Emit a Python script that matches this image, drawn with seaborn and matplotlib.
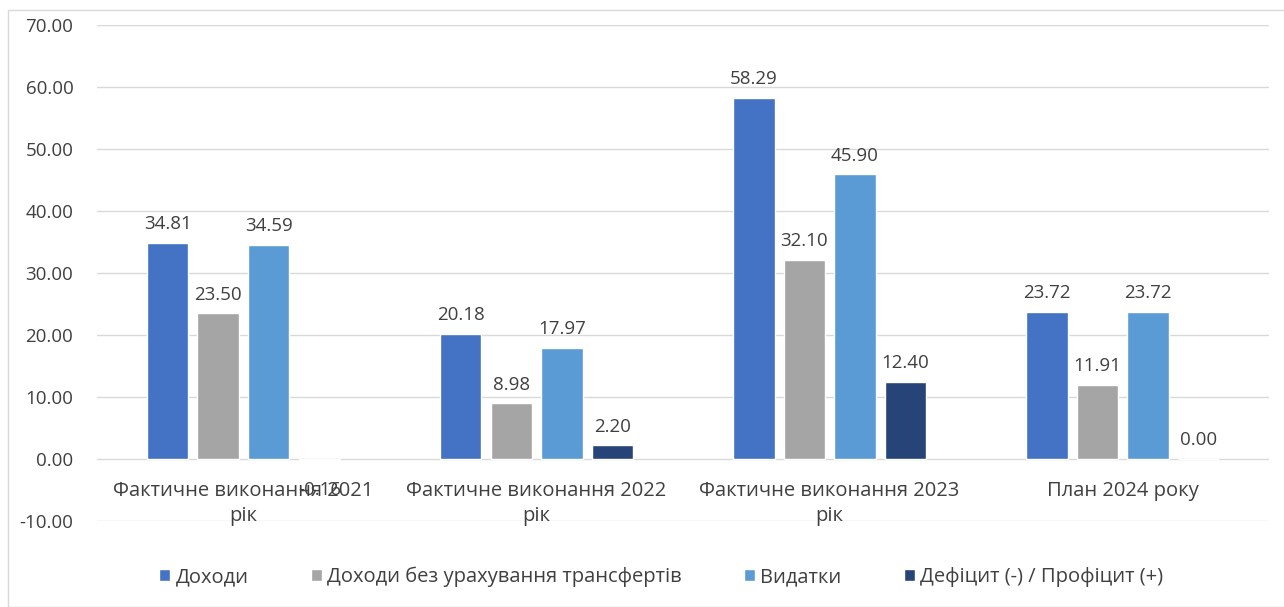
import pandas as pd
import matplotlib.pyplot as plt
import seaborn as sns
from matplotlib.patches import Patch, Rectangle

categories = ["Фактичне виконання 2021\nрік", "Фактичне виконання 2022\nрік",
              "Фактичне виконання 2023\nрік", "План 2024 року"]
series = ["Доходи", "Доходи без урахування трансфертів", "Видатки",
          "Дефіцит (-) / Профіцит (+)"]
dohody = [34.81, 20.18, 58.29, 23.72]
dohody_bez = [23.50, 8.98, 32.10, 11.91]
vydatky = [34.59, 17.97, 45.90, 23.72]
defitsyt = [-0.16, 2.20, 12.40, 0.00]
colors = ["#4472C4", "#A5A5A5", "#5B9BD5", "#264478"]

rows = []
for name, vals in zip(series, [dohody, dohody_bez, vydatky, defitsyt]):
    for cat, v in zip(categories, vals):
        rows.append({"category": cat, "series": name, "value": v})
df = pd.DataFrame(rows)

sns.set_style("white")
plt.rcParams["font.family"] = ["Open Sans", "DejaVu Sans"]
txt = "#404040"

fig = plt.figure(figsize=(12.84, 6.07), dpi=100)
ax = fig.add_axes([0.0755, 0.1417, 0.913, 0.8171])
sns.barplot(data=df, x="category", y="value", hue="series", palette=colors,
            saturation=1, width=0.69, gap=0.18, ax=ax, legend=False, errorbar=None)

ax.set_ylim(-10, 70)
ax.set_xlim(-0.5, 3.5)
ax.set_yticks(range(-10, 71, 10))
ax.set_yticklabels([f"{v:.2f}" for v in range(-10, 71, 10)], fontsize=13.5, color=txt)
ax.yaxis.grid(True, color="#D9D9D9", linewidth=1)
ax.set_axisbelow(True)
ax.tick_params(axis="y", length=0, pad=17)
ax.set_xticks([])
ax.set_xlabel("")
ax.set_ylabel("")
for s in ax.spines.values():
    s.set_visible(False)

for cont in ax.containers:
    for bar in cont:
        h = bar.get_height()
        xc = bar.get_x() + bar.get_width() / 2
        if h < 0:
            ax.annotate(f"{h:.2f}", (xc, h), xytext=(0, -15), textcoords="offset points",
                        ha="center", va="top", fontsize=13.5, color=txt)
        else:
            ax.annotate(f"{h:.2f}", (xc, h), xytext=(0, 7), textcoords="offset points",
                        ha="center", va="bottom", fontsize=13.5, color=txt)

for i, cat in enumerate(categories):
    ax.text(i, -3.6, cat, ha="center", va="top", fontsize=14.5, color=txt,
            linespacing=1.3)

handles = [Patch(facecolor=c, label=s) for c, s in zip(colors, series)]
fig.legend(handles=handles, loc="center", bbox_to_anchor=(0.515, 0.05), ncol=4,
           frameon=False, fontsize=14.5, handlelength=0.55, handleheight=0.55,
           handletextpad=0.25, columnspacing=3.1, labelcolor=txt)

fig.patches.append(Rectangle((8 / 1284, 0), 1, 1 - 10 / 607, transform=fig.transFigure,
                             fill=False, edgecolor="#D9D9D9", linewidth=1))

fig.savefig("out.png", dpi=100, facecolor="white")
